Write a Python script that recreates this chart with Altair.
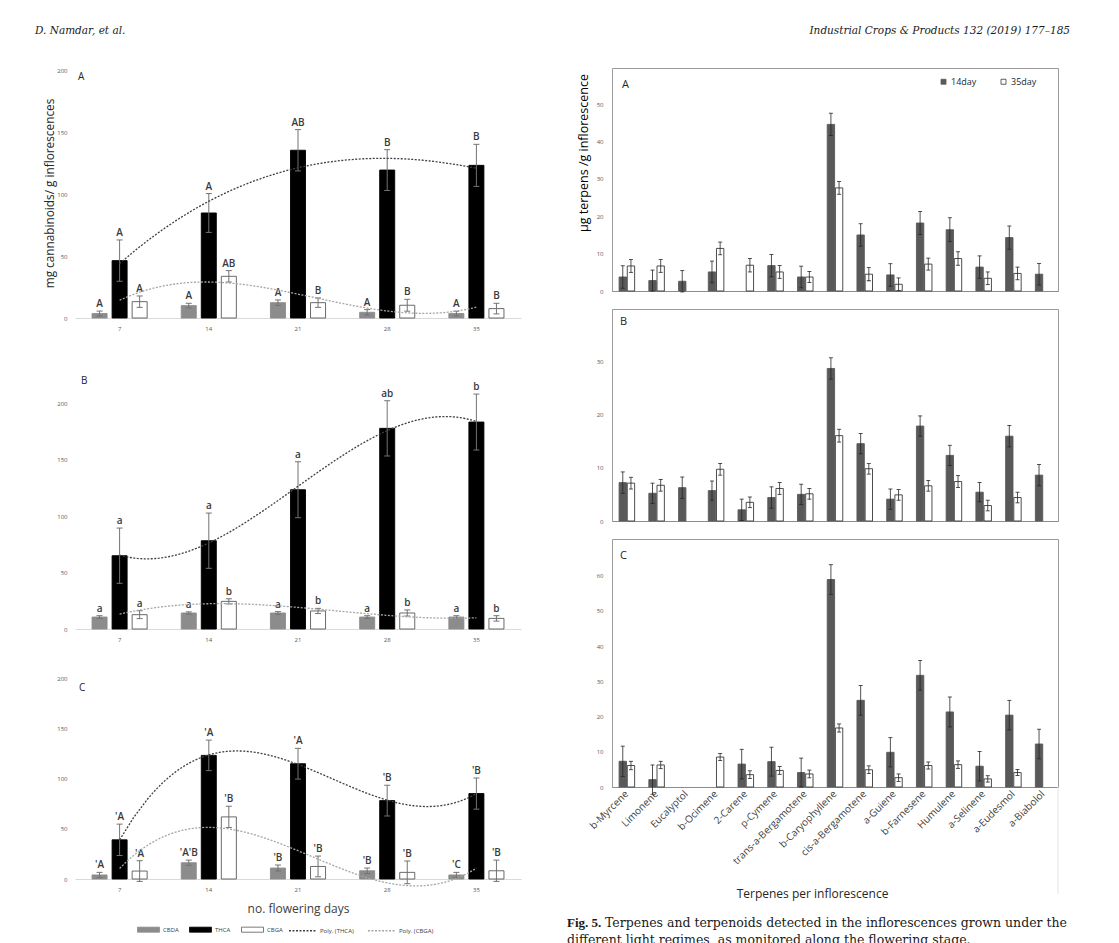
import altair as alt
import pandas as pd

FONT = "Open Sans"
SERIF = "DejaVu Serif"
SERIF_NARROW = "Liberation Serif"

# ---------------------------------------------------------------
# Cannabinoid content along flowering (left column, panels A-C)
# ---------------------------------------------------------------
DAYS = ["7", "14", "21", "28", "35"]
DAY_NUMBERS = [7, 14, 21, 28, 35]
CANNABINOIDS = ["CBDA", "THCA", "CBGA"]
TRENDS = ["Poly. (THCA)", "Poly. (CBGA)"]

A_CBDA = [3.6, 10.0, 12.4, 4.6, 3.6]
A_CBDA_ERR = [2.0, 1.9, 2.2, 2.2, 1.9]
A_THCA = [46.4, 84.9, 135.6, 119.6, 123.4]
A_THCA_ERR = [16.7, 15.7, 16.7, 16.5, 17.0]
A_CBGA = [13.2, 33.7, 12.4, 10.3, 7.6]
A_CBGA_ERR = [4.6, 4.6, 3.8, 4.8, 4.3]
A_CBDA_SIG = ["A", "A", "A", "A", "A"]
A_THCA_SIG = ["A", "A", "AB", "B", "B"]
A_CBGA_SIG = ["A", "AB", "B", "B", "B"]

B_CBDA = [10.6, 14.2, 14.2, 10.6, 10.6]
B_CBDA_ERR = [1.2, 1.0, 1.2, 1.2, 1.2]
B_THCA = [65.0, 78.3, 123.5, 177.9, 183.5]
B_THCA_ERR = [24.5, 24.5, 24.8, 24.5, 24.8]
B_CBGA = [12.7, 24.5, 16.0, 14.2, 9.4]
B_CBGA_ERR = [3.5, 2.3, 2.3, 2.7, 2.4]
B_CBDA_SIG = ["a", "a", "a", "a", "a"]
B_THCA_SIG = ["a", "a", "a", "ab", "b"]
B_CBGA_SIG = ["a", "b", "b", "b", "b"]

C_CBDA = [4.0, 16.2, 10.9, 8.2, 4.0]
C_CBDA_ERR = [2.6, 2.6, 3.0, 2.7, 2.6]
C_THCA = [39.0, 123.0, 114.7, 78.0, 85.0]
C_THCA_ERR = [15.6, 15.2, 15.3, 15.3, 15.5]
C_CBGA = [7.9, 61.8, 12.5, 6.6, 8.2]
C_CBGA_ERR = [10.3, 10.6, 10.3, 11.3, 10.6]
C_CBDA_SIG = ["'A", "'A'B", "'B", "'B", "'C"]
C_THCA_SIG = ["'A", "'A", "'A", "'B", "'B"]
C_CBGA_SIG = ["'A", "'B", "'B", "'B", "'B"]

# ---------------------------------------------------------------
# Terpenes per inflorescence (right column, panels A-C)
# ---------------------------------------------------------------
TERPENES = ["b-Myrcene", "Limonene", "Eucalyptol", "b-Ocimene", "2-Carene",
            "p-Cymene", "trans-a-Bergamotene", "b-Caryophyllene",
            "cis-a-Bergamotene", "a-Guiene", "b-Farnesene", "Humulene",
            "a-Selinene", "a-Eudesmol", "a-Biabolol"]
STAGES = ["14day", "35day"]

TA_14 = [3.75, 2.8, 2.6, 5.1, None, 6.8, 3.75, 44.6, 15.0, 4.3, 18.2, 16.4, 6.4, 14.3, 4.5]
TA_14_ERR = [3.0, 2.8, 2.85, 2.9, None, 3.0, 2.9, 3.0, 3.0, 3.0, 3.1, 3.2, 3.0, 3.1, 2.9]
TA_35 = [6.7, 6.7, None, 11.4, 6.9, 5.1, 3.75, 27.6, 4.5, 1.8, 7.2, 8.7, 3.4, 4.7, None]
TA_35_ERR = [1.7, 1.7, None, 1.7, 1.8, 1.7, 1.5, 1.7, 1.75, 1.7, 1.6, 1.8, 1.7, 1.7, None]

TB_14 = [7.2, 5.2, 6.25, 5.7, 2.1, 4.4, 5.0, 28.6, 14.5, 4.1, 17.8, 12.3, 5.4, 15.9, 8.6]
TB_14_ERR = [2.0, 1.9, 2.0, 1.8, 2.0, 2.0, 1.9, 2.0, 1.9, 1.9, 1.9, 1.9, 1.8, 2.0, 2.0]
TB_35 = [7.1, 6.7, None, 9.7, 3.5, 6.1, 5.1, 16.0, 9.8, 4.9, 6.6, 7.4, 2.9, 4.4, None]
TB_35_ERR = [1.1, 1.1, None, 1.1, 1.0, 1.1, 1.0, 1.2, 1.0, 1.0, 1.0, 1.1, 1.0, 1.0, None]

TC_14 = [7.3, 2.1, None, None, 6.5, 7.2, 4.1, 58.9, 24.6, 9.85, 31.7, 21.3, 5.9, 20.4, 12.2]
TC_14_ERR = [4.3, 4.15, None, None, 4.2, 4.1, 4.1, 4.2, 4.2, 4.15, 4.2, 4.25, 4.2, 4.2, 4.2]
TC_35 = [6.1, 6.25, None, 8.5, 3.5, 4.7, 3.7, 16.75, 4.9, 2.65, 6.1, 6.35, 2.3, 4.1, None]
TC_35_ERR = [1.2, 1.05, None, 1.0, 1.1, 1.1, 1.1, 1.15, 1.1, 1.05, 1.0, 1.05, 0.9, 0.85, None]

HEADER_LEFT = "D. Namdar, et al."
HEADER_RIGHT = "Industrial Crops & Products 132 (2019) 177\u2013185"
CAPTION_LEAD = "Fig. 5."
CAPTION_LINE1 = "Terpenes and terpenoids detected in the inflorescences grown under the"
CAPTION_LINE2 = "different light regimes, as monitored along the flowering stage."


def note(text, x, y, size, **style):
    """A single free-standing text annotation placed in pixel coordinates."""
    return (
        alt.Chart(pd.DataFrame({"t": [text]}))
        .mark_text(fontSize=size, **style)
        .encode(x=alt.value(x), y=alt.value(y), text="t:N")
    )


def cannabinoid_panel(values, errors, sigs, tag, tag_xy, ymax, height,
                      y_title=None, bottom=False, extra=()):
    rows = []
    for s in CANNABINOIDS:
        for i, d in enumerate(DAYS):
            rows.append(dict(day=d, daynum=DAY_NUMBERS[i], series=s,
                             value=values[s][i], err=errors[s][i], sig=sigs[s][i]))
    df = pd.DataFrame(rows)
    base = alt.Chart(df).transform_calculate(
        lo="datum.value - datum.err", hi="datum.value + datum.err")

    x_axis = dict(labelAngle=0, labelFontSize=6, labelColor="#595959", labelPadding=7,
                  ticks=False, domainColor="#d9d9d9", domainWidth=1, grid=False)
    if bottom:
        x_axis.update(titleFontSize=12, titleFontWeight="normal", titleColor="#404040",
                      titleY=29, titleBaseline="middle", titleFont=FONT)
    x_enc = alt.X("day:N", sort=DAYS,
                  scale=alt.Scale(domain=DAYS, paddingInner=0.326, paddingOuter=0.163),
                  axis=alt.Axis(**x_axis),
                  title="no. flowering days" if bottom else None)
    xo_enc = alt.XOffset("series:N",
                         scale=alt.Scale(domain=CANNABINOIDS, paddingInner=0.25,
                                         paddingOuter=0.125))
    y_axis = alt.Axis(values=[0, 50, 100, 150, 200], labelFontSize=6,
                      labelColor="#595959", labelPadding=8, ticks=False, domain=False,
                      grid=False, titleFontSize=11.8, titleFontWeight="normal",
                      titleColor="#262626", titleX=-20, titleFont=FONT)
    y_scale = alt.Scale(domain=[0, ymax], nice=False, zero=True)

    fill_legend = None
    line_legend = None
    if bottom:
        fill_legend = alt.Legend(
            orient="none", legendX=62, legendY=240, direction="horizontal", title=None,
            symbolType="M-1,-0.23H1V0.23H-1Z", symbolSize=484,
            symbolStrokeColor="#595959", symbolStrokeWidth=0.8,
            labelFontSize=6, labelColor="#404040", labelOffset=3, columnPadding=8,
            labelFont=FONT)
        line_legend = alt.Legend(
            orient="none", legendX=213, legendY=238, direction="horizontal", title=None,
            symbolType="stroke", symbolSize=729, symbolStrokeWidth=1.3,
            symbolDash=[2, 1.5], labelFontSize=6, labelColor="#404040",
            labelOffset=3, columnPadding=11, labelFont=FONT)

    bars = base.mark_bar(strokeWidth=0.9).encode(
        x=x_enc, xOffset=xo_enc,
        y=alt.Y("value:Q", scale=y_scale, axis=y_axis, title=y_title),
        fill=alt.Fill("series:N", scale=alt.Scale(domain=CANNABINOIDS,
                      range=["#8c8c8c", "#000000", "#ffffff"]), legend=fill_legend),
        stroke=alt.Stroke("series:N", scale=alt.Scale(domain=CANNABINOIDS,
                          range=["#8c8c8c", "#000000", "#595959"]), legend=None),
    )
    whiskers = base.mark_rule(color="#737373", strokeWidth=1).encode(
        x=x_enc, xOffset=xo_enc, y=alt.Y("lo:Q", title=y_title), y2="hi:Q")
    caps = base.transform_fold(["lo", "hi"], as_=["end", "cap"]).mark_tick(
        orient="horizontal", size=6, thickness=1, color="#737373", opacity=1
    ).encode(x=x_enc, xOffset=xo_enc, y=alt.Y("cap:Q", title=y_title))
    letters = base.mark_text(baseline="alphabetic", dy=-4, fontSize=10,
                             fontWeight=600, color="#3a3a3a", font=FONT).encode(
        x=x_enc, xOffset=xo_enc, y=alt.Y("hi:Q", title=y_title), text="sig:N")

    grouped = alt.layer(bars, whiskers, caps, letters)

    trend = (
        alt.Chart(df)
        .transform_filter(alt.FieldOneOfPredicate(field="series", oneOf=["THCA", "CBGA"]))
        .transform_regression("daynum", "value", method="poly", order=3,
                              groupby=["series"], extent=[7, 35])
        .transform_calculate(trend='"Poly. (" + datum.series + ")"')
        .mark_line(strokeDash=[2, 1.5], strokeWidth=1.3)
        .encode(
            x=alt.X("daynum:Q", scale=alt.Scale(domain=[3.5, 38.5], nice=False, zero=False),
                    axis=None),
            y=alt.Y("value:Q", title=y_title),
            color=alt.Color("trend:N", scale=alt.Scale(domain=TRENDS,
                            range=["#404040", "#a6a6a6"]), legend=line_legend),
        )
    )
    tag_layer = note(tag, tag_xy[0], tag_xy[1], 10, align="left", baseline="middle",
                     color="#262626", font=FONT)
    return (
        alt.layer(grouped, trend, tag_layer, *extra)
        .resolve_scale(x="independent")
        .properties(width=446, height=height)
    )


def terpene_panel(v14, e14, v35, e35, tag, tag_xy, ymax, height, ticks,
                  y_title=None, legend=False, bottom=False, extra=()):
    rows = []
    for stage, vals, errs in (("14day", v14, e14), ("35day", v35, e35)):
        for i, t in enumerate(TERPENES):
            if vals[i] is None:
                continue
            rows.append(dict(terpene=t, stage=stage, value=vals[i], err=errs[i]))
    df = pd.DataFrame(rows)
    base = alt.Chart(df).transform_calculate(
        lo="datum.value - datum.err", hi="datum.value + datum.err")

    if bottom:
        x_axis = alt.Axis(labelAngle=-45, labelAlign="right", labelBaseline="middle",
                          labelFontSize=10, labelColor="#404040", labelPadding=5,
                          ticks=False, domainColor="#8c8c8c", grid=False,
                          titleFontSize=12, titleFontWeight="normal", titleColor="#262626",
                          titleX=200, titleY=106, titleBaseline="middle", titleFont=FONT,
                          labelFont=FONT)
        x_title = "Terpenes per inflorescence"
    else:
        x_axis = alt.Axis(labels=False, ticks=False, domainColor="#8c8c8c", grid=False)
        x_title = None
    x_enc = alt.X("terpene:N", sort=TERPENES,
                  scale=alt.Scale(domain=TERPENES, paddingInner=0.45, paddingOuter=0.225),
                  axis=x_axis, title=x_title)
    xo_enc = alt.XOffset("stage:N", scale=alt.Scale(domain=STAGES, paddingInner=0.1,
                                                    paddingOuter=0.05))
    y_axis = alt.Axis(values=ticks, labelFontSize=6, labelColor="#595959", labelPadding=9,
                      ticks=False, domain=False, grid=False, titleFontSize=12.5,
                      titleFontWeight="normal", titleColor="#000000", titleX=-22,
                      titleY=84.5, titleFont=FONT)
    fill_legend = None
    if legend:
        fill_legend = alt.Legend(
            orient="none", legendX=327, legendY=9, direction="horizontal", title=None,
            symbolType="square", symbolSize=25, symbolStrokeColor="#3a3a3a",
            symbolStrokeWidth=0.8, labelFontSize=9, labelColor="#262626",
            labelOffset=3, columnPadding=22, labelFont=FONT)

    bars = base.mark_bar(strokeWidth=0.9).encode(
        x=x_enc, xOffset=xo_enc,
        y=alt.Y("value:Q", scale=alt.Scale(domain=[0, ymax], nice=False, zero=True),
                axis=y_axis, title=y_title),
        fill=alt.Fill("stage:N", scale=alt.Scale(domain=STAGES,
                      range=["#595959", "#ffffff"]), legend=fill_legend),
        stroke=alt.Stroke("stage:N", scale=alt.Scale(domain=STAGES,
                          range=["#595959", "#3a3a3a"]), legend=None),
    )
    whiskers = base.mark_rule(color="#262626", strokeWidth=0.8).encode(
        x=x_enc, xOffset=xo_enc, y=alt.Y("lo:Q", title=y_title), y2="hi:Q")
    caps = base.transform_fold(["lo", "hi"], as_=["end", "cap"]).mark_tick(
        orient="horizontal", size=4, thickness=0.8, color="#262626", opacity=1
    ).encode(x=x_enc, xOffset=xo_enc, y=alt.Y("cap:Q", title=y_title))
    tag_layer = note(tag, tag_xy[0], tag_xy[1], 11, align="left", baseline="middle",
                     color="#262626", font=FONT)
    return (
        alt.layer(bars, whiskers, caps, tag_layer, *extra)
        .properties(width=446, height=height,
                    view=alt.ViewBackground(stroke="#9a9a9a", strokeWidth=1))
    )


header_left = note(HEADER_LEFT, -40, -42, 10.5, align="left", baseline="top",
                   font=SERIF, fontStyle="italic", color="#1a1a1a")
header_right = note(HEADER_RIGHT, 458, -42, 10.5, align="right", baseline="top",
                    font=SERIF, fontStyle="italic", color="#1a1a1a")

left_a = cannabinoid_panel(
    {"CBDA": A_CBDA, "THCA": A_THCA, "CBGA": A_CBGA},
    {"CBDA": A_CBDA_ERR, "THCA": A_THCA_ERR, "CBGA": A_CBGA_ERR},
    {"CBDA": A_CBDA_SIG, "THCA": A_THCA_SIG, "CBGA": A_CBGA_SIG},
    "A", (3, 9), 202.1, 250, y_title="mg cannabinoids/ g inflorescences",
    extra=(header_left,))
left_b = cannabinoid_panel(
    {"CBDA": B_CBDA, "THCA": B_THCA, "CBGA": B_CBGA},
    {"CBDA": B_CBDA_ERR, "THCA": B_THCA_ERR, "CBGA": B_CBGA_ERR},
    {"CBDA": B_CBDA_SIG, "THCA": B_THCA_SIG, "CBGA": B_CBGA_SIG},
    "B", (6, 14), 232.3, 262)
left_c = cannabinoid_panel(
    {"CBDA": C_CBDA, "THCA": C_THCA, "CBGA": C_CBGA},
    {"CBDA": C_CBDA_ERR, "THCA": C_THCA_ERR, "CBGA": C_CBGA_ERR},
    {"CBDA": C_CBDA_SIG, "THCA": C_THCA_SIG, "CBGA": C_CBGA_SIG},
    "C", (4, 10), 200, 201, bottom=True)

frame_tail = (
    alt.Chart(pd.DataFrame({"k": [0]}))
    .mark_rule(color="#e3e3e3", strokeWidth=1)
    .encode(x=alt.value(446), y=alt.value(248), y2=alt.value(355))
)
caption = [
    note(CAPTION_LEAD, -45, 384, 13, align="left", baseline="middle",
         font=SERIF_NARROW, fontWeight="bold", color="#1a1a1a"),
    note(CAPTION_LINE1, -7, 384, 12.5, align="left", baseline="middle", font=SERIF,
         color="#1a1a1a"),
    note(CAPTION_LINE2, -45, 401, 12.5, align="left", baseline="middle", font=SERIF,
         color="#1a1a1a"),
]

right_a = terpene_panel(TA_14, TA_14_ERR, TA_35, TA_35_ERR, "A", (10, 17), 59.7, 223,
                        [0, 10, 20, 30, 40, 50], y_title="\u00b5g terpens /g inflorescence",
                        legend=True, extra=(header_right,))
right_b = terpene_panel(TB_14, TB_14_ERR, TB_35, TB_35_ERR, "B", (8, 13), 39.75, 212,
                        [0, 10, 20, 30])
right_c = terpene_panel(TC_14, TC_14_ERR, TC_35, TC_35_ERR, "C", (8, 17), 70.4, 248,
                        [0, 10, 20, 30, 40, 50, 60], bottom=True,
                        extra=(frame_tail, *caption))

indep = dict(fill="independent", stroke="independent", color="independent",
             xOffset="independent")
left_col = alt.vconcat(left_a, left_b, left_c, spacing=49, bounds="flush").resolve_scale(**indep)
right_col = alt.vconcat(right_a, right_b, right_c, spacing=18, bounds="flush").resolve_scale(**indep)

chart = (
    alt.hconcat(left_col, right_col, spacing=537, bounds="flush")
    .resolve_scale(**indep)
    .properties(padding={"left": 35, "top": 25, "right": 5, "bottom": 0})
    .configure(font=FONT, background="#ffffff")
    .configure_view(stroke=None)
)

chart.save("out.html", embed_options={"renderer": "svg", "actions": False})
